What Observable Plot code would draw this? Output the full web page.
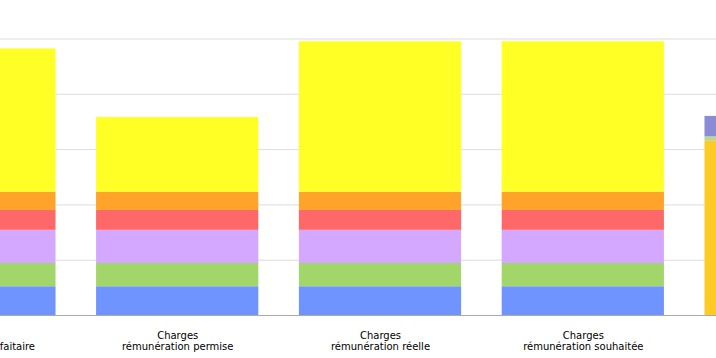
<!DOCTYPE html>
<html>
<head>
<meta charset="utf-8">
<script src="https://cdn.jsdelivr.net/npm/d3@7"></script>
<script src="https://cdn.jsdelivr.net/npm/@observablehq/plot@0.6"></script>
<style>
  html, body { margin: 0; padding: 0; background: #fff; }
  #wrap { width: 716px; height: 358px; overflow: hidden; position: relative; }
  #wrap svg { overflow: hidden; }
</style>
</head>
<body>
<div id="wrap"></div>
<script>
const categories = [
  "Charges\nrémunération forfaitaire",
  "Charges\nrémunération permise",
  "Charges\nrémunération réelle",
  "Charges\nrémunération souhaitée",
  "Revenus"
];
const series = ["S1", "S2", "S3", "S4", "S5", "S6", "S7", "S8", "S9"];
const seriesColors = ["#7094ff", "#a3d66a", "#d4a8ff", "#ff6868", "#ffa32a", "#ffff26", "#ffc926", "#bcd88e", "#8b8bd6"];
const S1 = [0.52, 0.52, 0.52, 0.52, 0];
const S2 = [0.42, 0.42, 0.42, 0.42, 0];
const S3 = [0.60, 0.60, 0.60, 0.60, 0];
const S4 = [0.36, 0.36, 0.36, 0.36, 0];
const S5 = [0.33, 0.33, 0.33, 0.33, 0];
const S6 = [2.59, 1.35, 2.72, 2.72, 0];
const S7 = [0, 0, 0, 0, 3.15];
const S8 = [0, 0, 0, 0, 0.08];
const S9 = [0, 0, 0, 0, 0.37];
const gridTicks = [1, 2, 3, 4, 5];

const values = [S1, S2, S3, S4, S5, S6, S7, S8, S9];
const table = [];
series.forEach((s, j) => {
  categories.forEach((c, i) => {
    table.push({category: c, series: s, value: values[j][i]});
  });
});

const chart = Plot.plot({
  width: 716,
  height: 358,
  marginTop: 38.5,
  marginBottom: 43,
  marginLeft: 0,
  marginRight: 0,
  style: {fontFamily: "DejaVu Sans, Verdana, sans-serif", fontSize: "10px", color: "#000", background: "#fff"},
  x: {domain: categories, range: [-127, 887], paddingInner: 0.2, paddingOuter: 0.1, round: false, label: null},
  y: {domain: [0, 5], label: null, axis: null},
  color: {domain: series, range: seriesColors},
  marks: [
    Plot.gridY(gridTicks, {stroke: "#dddddd", strokeOpacity: 1}),
    Plot.barY(table, {x: "category", y: "value", fill: "series"}),
    Plot.ruleY([0], {stroke: "#aaaaaa"}),
    Plot.axisX({tickSize: 0, tickPadding: 16, fill: "#000", fontSize: 10, lineHeight: 1.1})
  ]
});
document.getElementById("wrap").appendChild(chart);
</script>
</body>
</html>
